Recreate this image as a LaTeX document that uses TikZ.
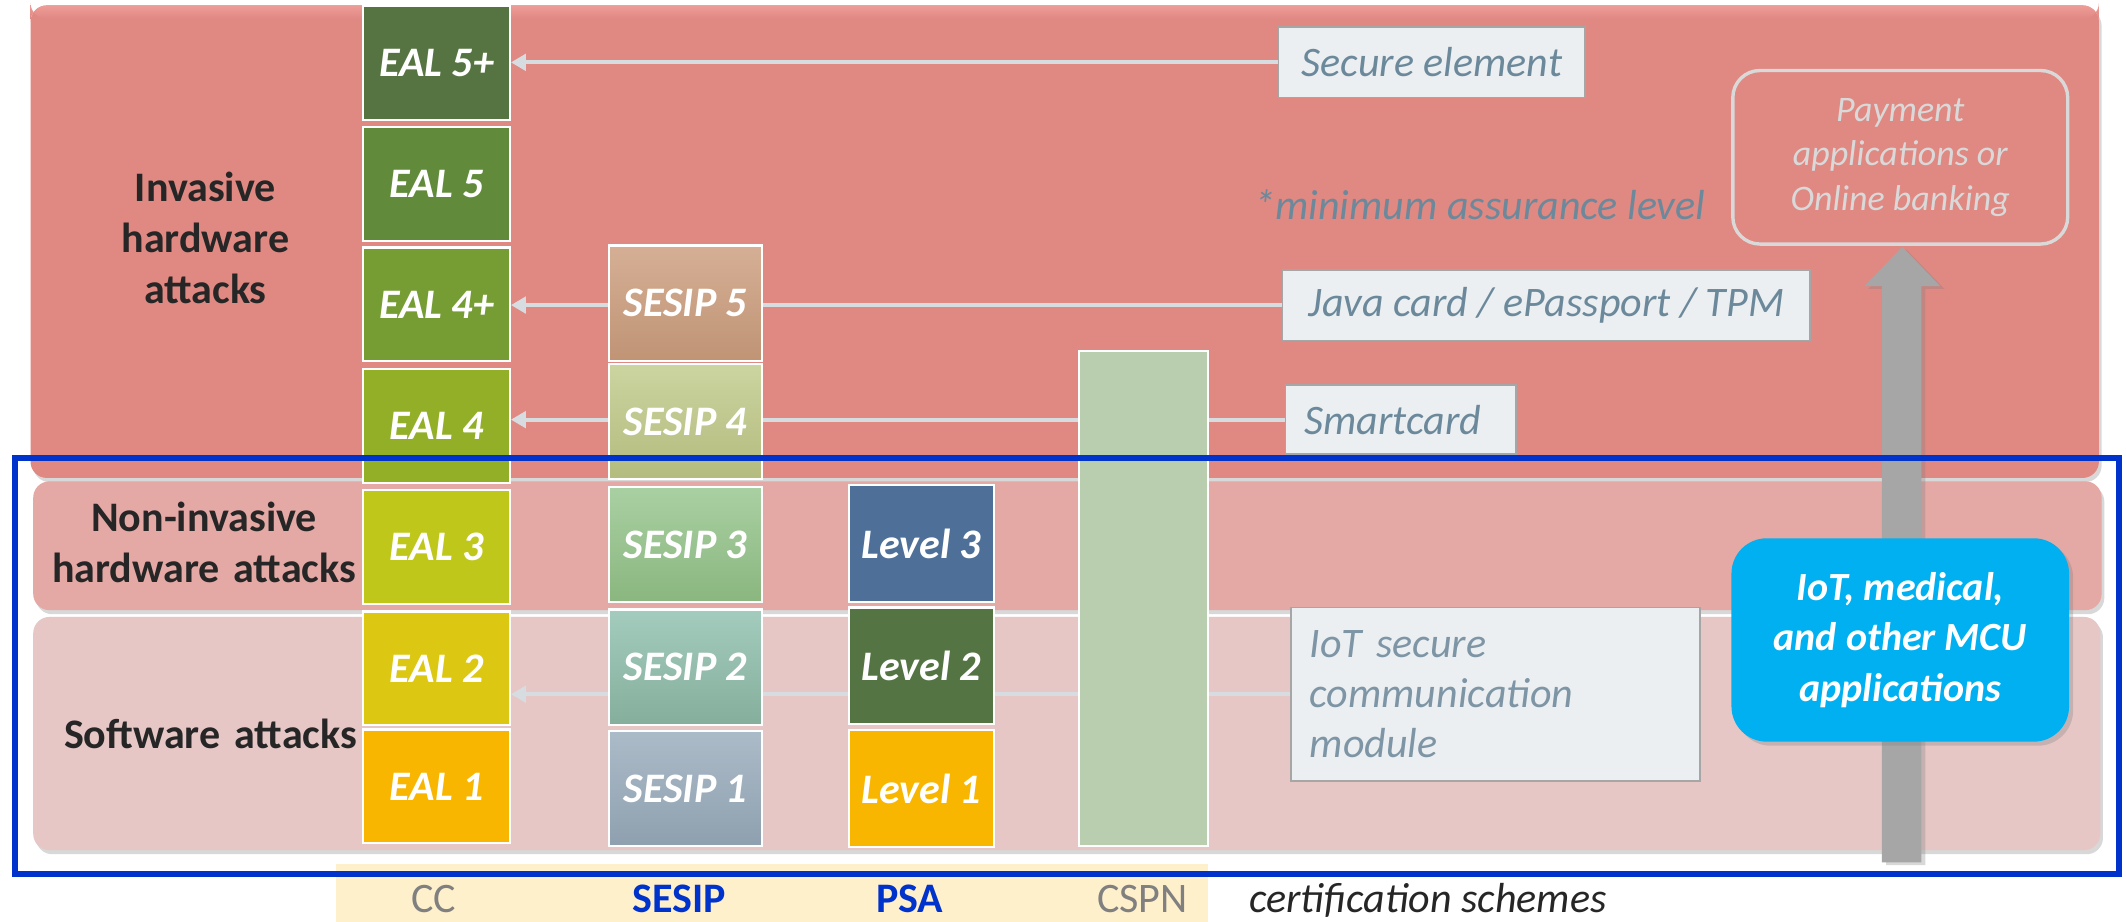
\documentclass[tikz,border=0pt]{standalone}
\usepackage{fontspec}
\setmainfont{Carlito}
\usetikzlibrary{shadows,arrows.meta}
\definecolor{bandA}{HTML}{E08882}
\definecolor{bandAtop}{HTML}{EE9C97}
\definecolor{bandB}{HTML}{E4A8A5}
\definecolor{bandC}{HTML}{E6C7C6}
\definecolor{lblfill}{HTML}{EBEFF2}
\definecolor{lbldraw}{HTML}{A6A6A6}
\definecolor{lbltext}{HTML}{6C899B}
\definecolor{lbltextB}{HTML}{7E95A5}
\definecolor{conncol}{HTML}{D6DCE0}
\definecolor{frameblue}{HTML}{0033CC}
\definecolor{beige}{HTML}{FFF0CC}
\definecolor{darktext}{HTML}{262626}
\definecolor{iotblue}{HTML}{00B0F0}
\definecolor{paygray}{HTML}{D9D9D9}
\definecolor{arrgray}{HTML}{A6A6A6}
\definecolor{axisgray}{HTML}{808080}
\definecolor{ealA}{HTML}{557442}
\definecolor{ealB}{HTML}{628A3B}
\definecolor{ealC}{HTML}{769C34}
\definecolor{ealD}{HTML}{93AF28}
\definecolor{ealE}{HTML}{BFC71B}
\definecolor{ealF}{HTML}{DCC712}
\definecolor{ealG}{HTML}{F8B600}
\definecolor{lvlC}{HTML}{4E7098}
\definecolor{lvlB}{HTML}{547444}
\definecolor{cspncol}{HTML}{B9CEAE}
\definecolor{s5t}{HTML}{D5AF95}\definecolor{s5b}{HTML}{C09475}
\definecolor{s4t}{HTML}{CCD4A0}\definecolor{s4b}{HTML}{B3BB7E}
\definecolor{s3t}{HTML}{A9D0A2}\definecolor{s3b}{HTML}{8AB67F}
\definecolor{s2t}{HTML}{A4CCBE}\definecolor{s2b}{HTML}{85AE9C}
\definecolor{s1t}{HTML}{ACBBC8}\definecolor{s1b}{HTML}{8EA0AF}
\tikzset{
  band/.style={rounded corners=12pt, drop shadow={shadow xshift=2pt, shadow yshift=-3pt, opacity=0.3}},
  lvl/.style={draw=white, line width=1.6pt, inner sep=0pt, text=white, font=\fontsize{31}{37.7}\selectfont\bfseries\itshape},
  ealbox/.style={lvl, minimum width=108pt, minimum height=84pt},
  sesbox/.style={lvl, minimum width=113pt, minimum height=85pt},
  psabox/.style={lvl, minimum width=107pt, minimum height=86pt},
  rowlbl/.style={text=darktext, font=\fontsize{31}{37.7}\selectfont\bfseries, align=center, anchor=base, inner sep=0pt, text width=260pt},
  lblbox/.style={draw=lbldraw, fill=lblfill, line width=1.2pt, text=lbltext, font=\fontsize{31}{37}\selectfont\itshape, inner xsep=14pt, inner ysep=0pt},
  conn/.style={draw=conncol, line width=3pt},
  connarr/.style={conn, -{Triangle[length=11pt,width=12pt]}},
  axislbl/.style={anchor=base, inner sep=0pt, font=\fontsize{31}{37}\selectfont},
}
\begin{document}
\begin{tikzpicture}[x=1pt,y=-1pt]
\useasboundingbox (0,0) rectangle (1568,680);
\fill[white] (0,0) rectangle (1568,680);
% bands
\path[band, fill=bandA] (22.5,4) rectangle (1548,352.5);
\shade[top color=bandAtop, bottom color=bandA, rounded corners=12pt] (22.5,4) -- (1548,4) -- (1548,14) -- (22.5,14) -- cycle;
\path[band, fill=bandB] (24.5,355) rectangle (1550,450);
\path[band, fill=bandC] (24.5,455) rectangle (1549,627);
% beige axis strip
\fill[beige] (247.6,637) rectangle (891,680);
% row labels
\node[rowlbl] (inv) at (151.5,148.7) {Invasive\\hardware\\attacks};
\node[rowlbl] (noninv) at (150.5,392) {Non-invasive\\hardware attacks};
\node[rowlbl] (sw) at (155.3,551.8) {Software attacks};
% EAL column
\node[ealbox, fill=ealA] (eal5p) at (322,46.5) {EAL 5+};
\node[ealbox, fill=ealB] (eal5) at (322,135.5) {EAL 5};
\node[ealbox, fill=ealC] (eal4p) at (322,224.5) {EAL 4+};
\node[ealbox, fill=ealD] (eal4) at (322,314) {EAL 4};
\node[ealbox, fill=ealE] (eal3) at (322,403.5) {EAL 3};
\node[ealbox, fill=ealF] (eal2) at (322,493) {EAL 2};
\node[ealbox, fill=ealG] (eal1) at (322,580) {EAL 1};
% SESIP column
\node[sesbox, top color=s5t, bottom color=s5b] (ses5) at (505.5,223.5) {SESIP 5};
\node[sesbox, top color=s4t, bottom color=s4b] (ses4) at (505.5,311) {SESIP 4};
\node[sesbox, top color=s3t, bottom color=s3b] (ses3) at (505.5,401.5) {SESIP 3};
\node[sesbox, top color=s2t, bottom color=s2b] (ses2) at (505.5,492) {SESIP 2};
\node[sesbox, top color=s1t, bottom color=s1b] (ses1) at (505.5,581.5) {SESIP 1};
% PSA column
\node[psabox, fill=lvlC] (lv3) at (679.5,401) {Level 3};
\node[psabox, fill=lvlB] (lv2) at (679.5,491) {Level 2};
\node[psabox, fill=ealG] (lv1) at (679.5,581.5) {Level 1};
% CSPN
\node[draw=white, line width=1.6pt, fill=cspncol, minimum width=95pt, minimum height=365pt, inner sep=0pt] (cspn) at (843.5,441.5) {};
% label boxes
\node[lblbox, minimum width=226pt, minimum height=52pt] (se) at (1056,46) {Secure element};
\node[lblbox, minimum width=389pt, minimum height=52pt] (jc) at (1140.5,225) {Java card / ePassport / TPM};
\node[lblbox, minimum width=170pt, minimum height=51pt, text width=142pt, align=left] (sc) at (1033,309.5) {Smartcard};
\node[lblbox, text width=274pt, minimum height=128pt, align=left, text=lbltextB] (iotm) at (1103,512) {IoT secure\\communication\\module};
\node[anchor=base west, inner sep=0pt, text=lbltext, font=\fontsize{31}{37}\selectfont\itshape] (minlvl) at (925,162) {*minimum assurance level};
% connectors
\draw[connarr] (se.west) -- (se.west -| eal5p.east);
\draw[conn] (jc.west) -- (jc.west -| ses5.east);
\draw[connarr] (jc.west -| ses5.west) -- (jc.west -| eal4p.east);
\draw[conn] (sc.west) -- (sc.west -| cspn.east);
\draw[conn] (sc.west -| cspn.west) -- (sc.west -| ses4.east);
\draw[connarr] (sc.west -| ses4.west) -- (sc.west -| eal4.east);
\draw[conn] (iotm.west) -- (iotm.west -| cspn.east);
\draw[conn] (iotm.west -| cspn.west) -- (iotm.west -| lv2.east);
\draw[conn] (iotm.west -| lv2.west) -- (iotm.west -| ses2.east);
\draw[connarr] (iotm.west -| ses2.west) -- (iotm.west -| eal2.east);
% payment box
\node[draw=paygray, line width=2.5pt, rounded corners=20pt, minimum width=247pt, minimum height=128pt, text=paygray, font=\fontsize{26.5}{32.7}\selectfont\itshape, align=center] (pay) at (1401.5,116) {Payment\\applications or\\Online banking};
% big gray arrow
\fill[arrgray, drop shadow={shadow xshift=3pt, shadow yshift=-2pt, opacity=0.3}] (1388,636) -- (1388,211) -- (1375,211) -- (1403,182) -- (1431,211) -- (1417,211) -- (1417,636) -- cycle;
% IoT blue box
\node[fill=iotblue, rounded corners=26pt, minimum width=249pt, minimum height=150pt, text=white, font=\fontsize{29.5}{37.5}\selectfont\bfseries\itshape, align=center, drop shadow={shadow xshift=3pt, shadow yshift=-3pt, opacity=0.3}] (iot) at (1401.5,472) {IoT, medical,\\and other MCU\\applications};
% axis labels
\node[axislbl, text=axisgray] (ccl) at (320,673) {CC};
\node[axislbl, text=frameblue, font=\fontsize{31}{37}\selectfont\bfseries] (sesl) at (501,673) {SESIP};
\node[axislbl, text=frameblue, font=\fontsize{31}{37}\selectfont\bfseries] (psal) at (671,673) {PSA};
\node[axislbl, text=axisgray] (cspnl) at (842.5,673) {CSPN};
\node[axislbl, anchor=base west, text=darktext, font=\fontsize{31}{37}\selectfont\itshape] (cert) at (921,673) {certification schemes};
% blue frame
\draw[frameblue, line width=4.2pt] (11.3,337.7) rectangle (1563,644.6);
\end{tikzpicture}
\end{document}
